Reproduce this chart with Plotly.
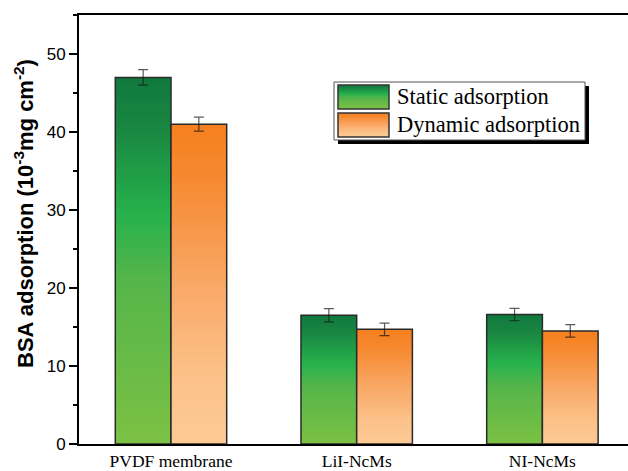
import plotly.graph_objects as go
import numpy as np

# ---------------- data ----------------
categories = ["PVDF membrane", "LiI-NcMs", "NI-NcMs"]
static_vals = [47.0, 16.5, 16.6]
static_err = [1.0, 0.85, 0.8]
dynamic_vals = [41.0, 14.7, 14.5]
dynamic_err = [0.9, 0.8, 0.8]
series_names = ["Static adsorption", "Dynamic adsorption"]
y_ticks = [0, 10, 20, 30, 40, 50]

# gradient stops (fraction of bar height from bottom -> rgb)
green_stops = [(0.0, (124, 193, 68)), (0.45, (85, 181, 74)), (0.62, (40, 178, 76)),
               (0.88, (24, 132, 65)), (1.0, (16, 122, 62))]
orange_stops = [(0.0, (253, 202, 150)), (0.2, (252, 194, 138)), (0.5, (249, 168, 102)),
                (0.85, (246, 136, 46)), (1.0, (245, 128, 31))]


def interp(stops, f):
    for (f0, c0), (f1, c1) in zip(stops[:-1], stops[1:]):
        if f <= f1:
            t = 0 if f1 == f0 else (f - f0) / (f1 - f0)
            c = [round(a + (b - a) * t) for a, b in zip(c0, c1)]
            return "rgb(%d,%d,%d)" % tuple(c)
    return "rgb(%d,%d,%d)" % stops[-1][1]


fig = go.Figure()
N = 90


def add_series(vals, errs, stops, group):
    v = np.array(vals, dtype=float)
    for i in range(N):
        f0 = i / N
        h = min(2.0 / N, 1.0 - f0)
        fig.add_trace(go.Bar(
            x=categories, y=v * h, base=v * f0, offsetgroup=group,
            marker=dict(color=interp(stops, f0 + 0.5 / N), line=dict(width=0)),
            showlegend=False, hoverinfo="skip"))
    fig.add_trace(go.Bar(
        x=categories, y=v, offsetgroup=group,
        marker=dict(color="rgba(0,0,0,0)", line=dict(color="#2a2a2a", width=1.5)),
        error_y=dict(type="data", array=errs, visible=True,
                     color="rgba(20,20,20,0.7)", thickness=1.2, width=5),
        showlegend=False))


add_series(static_vals, static_err, green_stops, "static")
add_series(dynamic_vals, dynamic_err, orange_stops, "dynamic")

# ---------------- layout ----------------
L, R, T, B = 79, 0, 15, 27
W, H = 628, 471
pw, ph = W - L - R, H - T - B


def px(xp):
    return (xp - L) / pw


def py(yp):
    return (H - B - yp) / ph


shapes = []
# legend shadow and box
bx0, bx1, by0, by1 = 334, 585, 82, 140
shapes.append(dict(type="rect", xref="paper", yref="paper",
                   x0=px(bx0 + 4), x1=px(bx1 + 4), y0=py(by1 + 4), y1=py(by0 + 4),
                   fillcolor="black", line=dict(width=0)))
shapes.append(dict(type="rect", xref="paper", yref="paper",
                   x0=px(bx0), x1=px(bx1), y0=py(by1), y1=py(by0),
                   fillcolor="white", line=dict(color="#555", width=1)))
annotations = []
for k, (stops, name, sy0, sy1) in enumerate([(green_stops, series_names[0], 85, 109),
                                             (orange_stops, series_names[1], 113, 137)]):
    M = 24
    for j in range(M):
        ya = sy1 - (sy1 - sy0) * j / M
        yb = sy1 - (sy1 - sy0) * (j + 1.3) / M
        yb = max(yb, sy0)
        shapes.append(dict(type="rect", xref="paper", yref="paper",
                           x0=px(338), x1=px(389), y0=py(ya), y1=py(yb),
                           fillcolor=interp(stops, (j + 0.5) / M), line=dict(width=0)))
    shapes.append(dict(type="rect", xref="paper", yref="paper",
                       x0=px(338), x1=px(389), y0=py(sy1), y1=py(sy0),
                       fillcolor="rgba(0,0,0,0)", line=dict(color="#333", width=1.5)))
    annotations.append(dict(xref="paper", yref="paper", x=px(395), y=py((sy0 + sy1) / 2),
                            xanchor="left", yanchor="middle", showarrow=False, text=name,
                            font=dict(family="Liberation Serif", size=22.5, color="black")))

annotations.append(dict(xref="paper", yref="paper", x=px(24), y=py(214), textangle=-90,
                        xanchor="center", yanchor="middle", showarrow=False,
                        text="<b>BSA adsorption (10<sup>-3</sup>mg cm<sup>-2</sup>)</b>",
                        font=dict(family="Liberation Sans", size=22, color="black")))

fig.update_layout(
    width=W, height=H,
    margin=dict(l=L, r=R, t=T, b=B, pad=0, autoexpand=False),
    paper_bgcolor="white", plot_bgcolor="white",
    barmode="group", bargap=0.4, bargroupgap=0,
    shapes=shapes, annotations=annotations,
    xaxis=dict(type="category", range=[-0.4954, 2.461], showgrid=False, automargin=False,
               showline=True, linecolor="black", linewidth=2, mirror=True,
               ticks="", tickfont=dict(family="Liberation Serif", size=17.5, color="black")),
    yaxis=dict(range=[0, 55], tickvals=y_ticks, showgrid=False, zeroline=False, automargin=False,
               showline=True, linecolor="black", linewidth=2,
               ticks="outside", ticklen=8, tickwidth=1.5, tickcolor="black",
               minor=dict(ticks="outside", ticklen=4, tickwidth=1.5, dtick=5, tickcolor="black"),
               tickfont=dict(family="Liberation Sans", size=17, color="black")),
)

fig.write_html("out.html")
